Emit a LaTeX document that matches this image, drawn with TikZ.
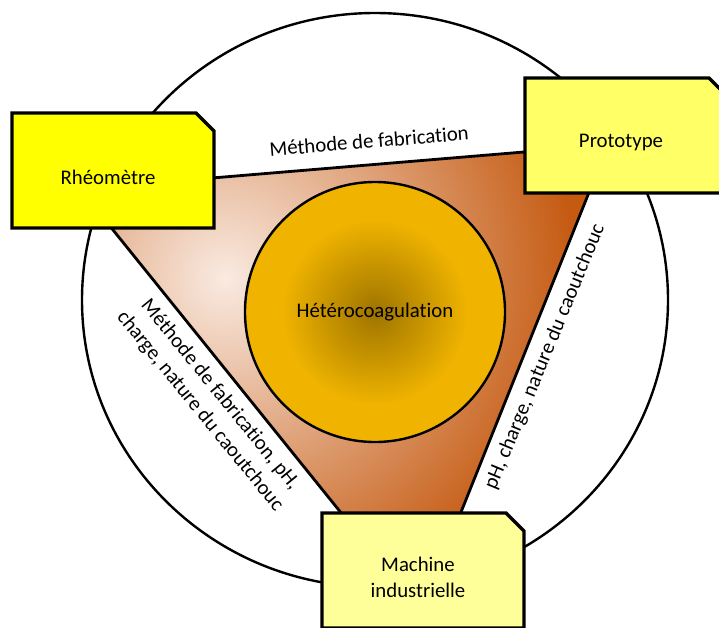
\documentclass[tikz,border=0pt]{standalone}
\usepackage{fontspec}
\setmainfont{Carlito}[Ligatures=NoCommon]
\definecolor{jauneVif}{RGB}{255,255,0}
\definecolor{jauneMoyen}{RGB}{255,255,102}
\definecolor{jaunePale}{RGB}{255,255,153}
\definecolor{orClair}{RGB}{240,180,0}
\definecolor{orFonce}{RGB}{158,116,0}
\definecolor{cuivreClair}{RGB}{249,234,225}
\definecolor{cuivreFonce}{RGB}{197,90,17}
\pgfdeclareradialshading{coeurgrad}{\pgfpoint{0bp}{0bp}}{color(0bp)=(orFonce); color(18bp)=(orClair); color(25bp)=(orClair); color(50bp)=(orClair)}
\pgfdeclareradialshading{trigrad}{\pgfpoint{0bp}{0bp}}{color(0bp)=(cuivreClair); color(22bp)=(cuivreFonce); color(50bp)=(cuivreFonce)}
\tikzset{
  texte/.style={font=\fontsize{20.8}{26}\selectfont, align=center, inner sep=0pt},
  carte/.style={draw, line width=3.2pt, line join=miter},
}
\newcommand{\boiteCarte}[5]{%
  \draw[carte, fill=#4] (#2,#3) -- ++(184,0) -- ++(18,18) -- ++(0,97) -- ++(-202,0) -- cycle;
  \node[texte] (#1) at (#2+96,#3+64) {#5};}
\begin{document}
\begin{tikzpicture}[x=1pt, y=-1pt]
  \useasboundingbox (0,0) rectangle (719,627);
  \draw[line width=2.4pt, fill=white] (375,300) ellipse [x radius=293, y radius=287];
  \coordinate (sA) at (80,189);
  \coordinate (sB) at (608,145);
  \coordinate (sC) at (421,612);
  \begin{scope}
    \clip (sA) -- (sB) -- (sC) -- cycle;
    \shade[shading=trigrad] (225,278) circle (400);
  \end{scope}
  \draw[line width=2.8pt] (sA) -- (sB) -- (sC) -- cycle;
  \node[texte, circle, draw, line width=2.4pt, minimum size=260pt, shading=coeurgrad] (coeur) at (375,312) {Hétérocoagulation};
  \node[texte, rotate=4.7] (lienHaut) at (369,141) {Méthode de fabrication};
  \node[texte, rotate=-50.8] (lienGauche) at (210,403) {Méthode de fabrication, pH,\\charge, nature du caoutchouc};
  \node[texte, rotate=67.5] (lienDroit) at (545,357) {pH, charge, nature du caoutchouc};
  \boiteCarte{rheo}{12}{113}{jauneVif}{Rhéomètre}
  \boiteCarte{proto}{525}{78}{jauneMoyen}{Prototype}
  \boiteCarte{machine}{322}{513}{jaunePale}{Machine\\industrielle}
\end{tikzpicture}
\end{document}
